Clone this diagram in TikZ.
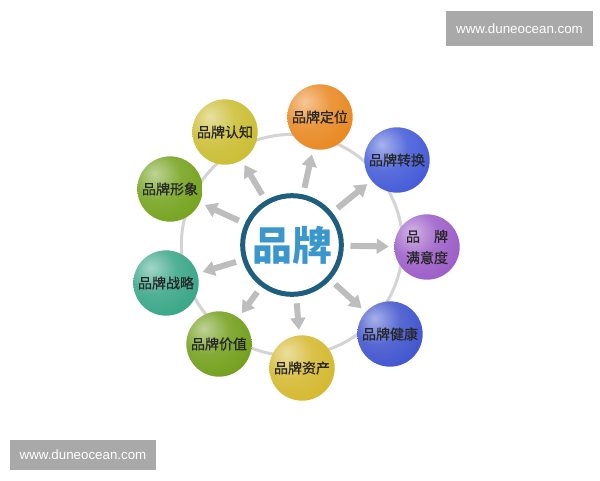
\documentclass[tikz,border=0pt]{standalone}
\usepackage{fontspec}
\setsansfont{Liberation Sans}
\newfontfamily\cjk{Noto Sans CJK SC}
\newfontfamily\cjkmid[FakeBold=0.8]{Noto Sans CJK SC}
\usetikzlibrary{arrows.meta}

\definecolor{ringgray}{HTML}{D4D4D4}
\definecolor{arrgray}{HTML}{BDBDBD}
\definecolor{markgray}{HTML}{A9A9A9}
\definecolor{brandring}{HTML}{1E5E7E}
\definecolor{brandtext}{HTML}{3A97CC}
\definecolor{cogn}{HTML}{C9BB2C}
\definecolor{posi}{HTML}{E8841A}
\definecolor{conv}{HTML}{3D55D6}
\definecolor{sati}{HTML}{9858C6}
\definecolor{heal}{HTML}{3A4ECC}
\definecolor{asse}{HTML}{D3B628}
\definecolor{valu}{HTML}{6E9C14}
\definecolor{stra}{HTML}{32A383}
\definecolor{imag}{HTML}{70A016}

\colorlet{satcol}{gray}
\pgfdeclareradialshading[satcol]{satball}{\pgfqpoint{-12bp}{12bp}}{color(0bp)=(satcol!45!white); color(18bp)=(satcol!85!white); color(42bp)=(satcol); color(60bp)=(satcol!70!black); color(100bp)=(satcol!70!black)}

\tikzset{
  sat/.style={circle, minimum size=49pt, inner sep=0pt, /utils/exec={\colorlet{satcol}{#1}},
    shading=satball, text=black!85, align=center, font=\cjkmid\fontsize{10.5}{16}\selectfont},
  brandbox/.style={circle, draw=brandring, line width=3.75pt, fill=white, minimum size=74pt,
    inner sep=0pt, text=brandtext, font=\cjk\bfseries\fontsize{30}{32}\selectfont},
  arr/.style={draw=arrgray, line width=4.5pt, -{Triangle[length=9pt,width=11pt]},
    shorten <=5pt, shorten >=4pt},
  ringline/.style={draw=ringgray, line width=2.25pt},
  webmark/.style={fill=markgray, text=white, inner sep=0pt, font=\sffamily\fontsize{10}{12}\selectfont}
}

\begin{document}
\begin{tikzpicture}[x=0.75pt, y=-0.75pt]
		\useasboundingbox[fill=white] (0, 0) rectangle (600, 480);
		%%%%%%%%%%%%%
		\coordinate (o) at (292, 245);
		\draw [ringline] (o) circle [radius=83pt];
		%%%%%%%%%%%%%
		\node (brand) at (o) [brandbox] {品牌};
		\node (cognition) at (225, 132) [sat=cogn] {品牌认知};
		\node (position) at (320, 117) [sat=posi] {品牌定位};
		\node (conversion) at (397, 160) [sat=conv] {品牌转换};
		\node (satisfaction) at (427, 247) [sat=sati] {品\hspace{1em}牌\\满意度};
		\node (health) at (390, 334) [sat=heal] {品牌健康};
		\node (equity) at (302, 368) [sat=asse] {品牌资产};
		\node (value) at (219, 344) [sat=valu] {品牌价值};
		\node (strategy) at (166, 283) [sat=stra] {品牌战略};
		\node (image) at (170, 189) [sat=imag] {品牌形象};
		%%%%%%%%%%%%%
		\foreach \s in {cognition, position, conversion, satisfaction, health, equity, value, strategy, image}
			\draw [arr] (brand) to (\s);
		%%%%%%%%%%%%%
		\node (topmark) at (519.5, 28.5) [webmark, minimum width=110pt, minimum height=26pt] {www.duneocean.com};
		\node (bottommark) at (83, 455) [webmark, minimum width=109.5pt, minimum height=22.5pt] {www.duneocean.com};
\end{tikzpicture}
\end{document}
